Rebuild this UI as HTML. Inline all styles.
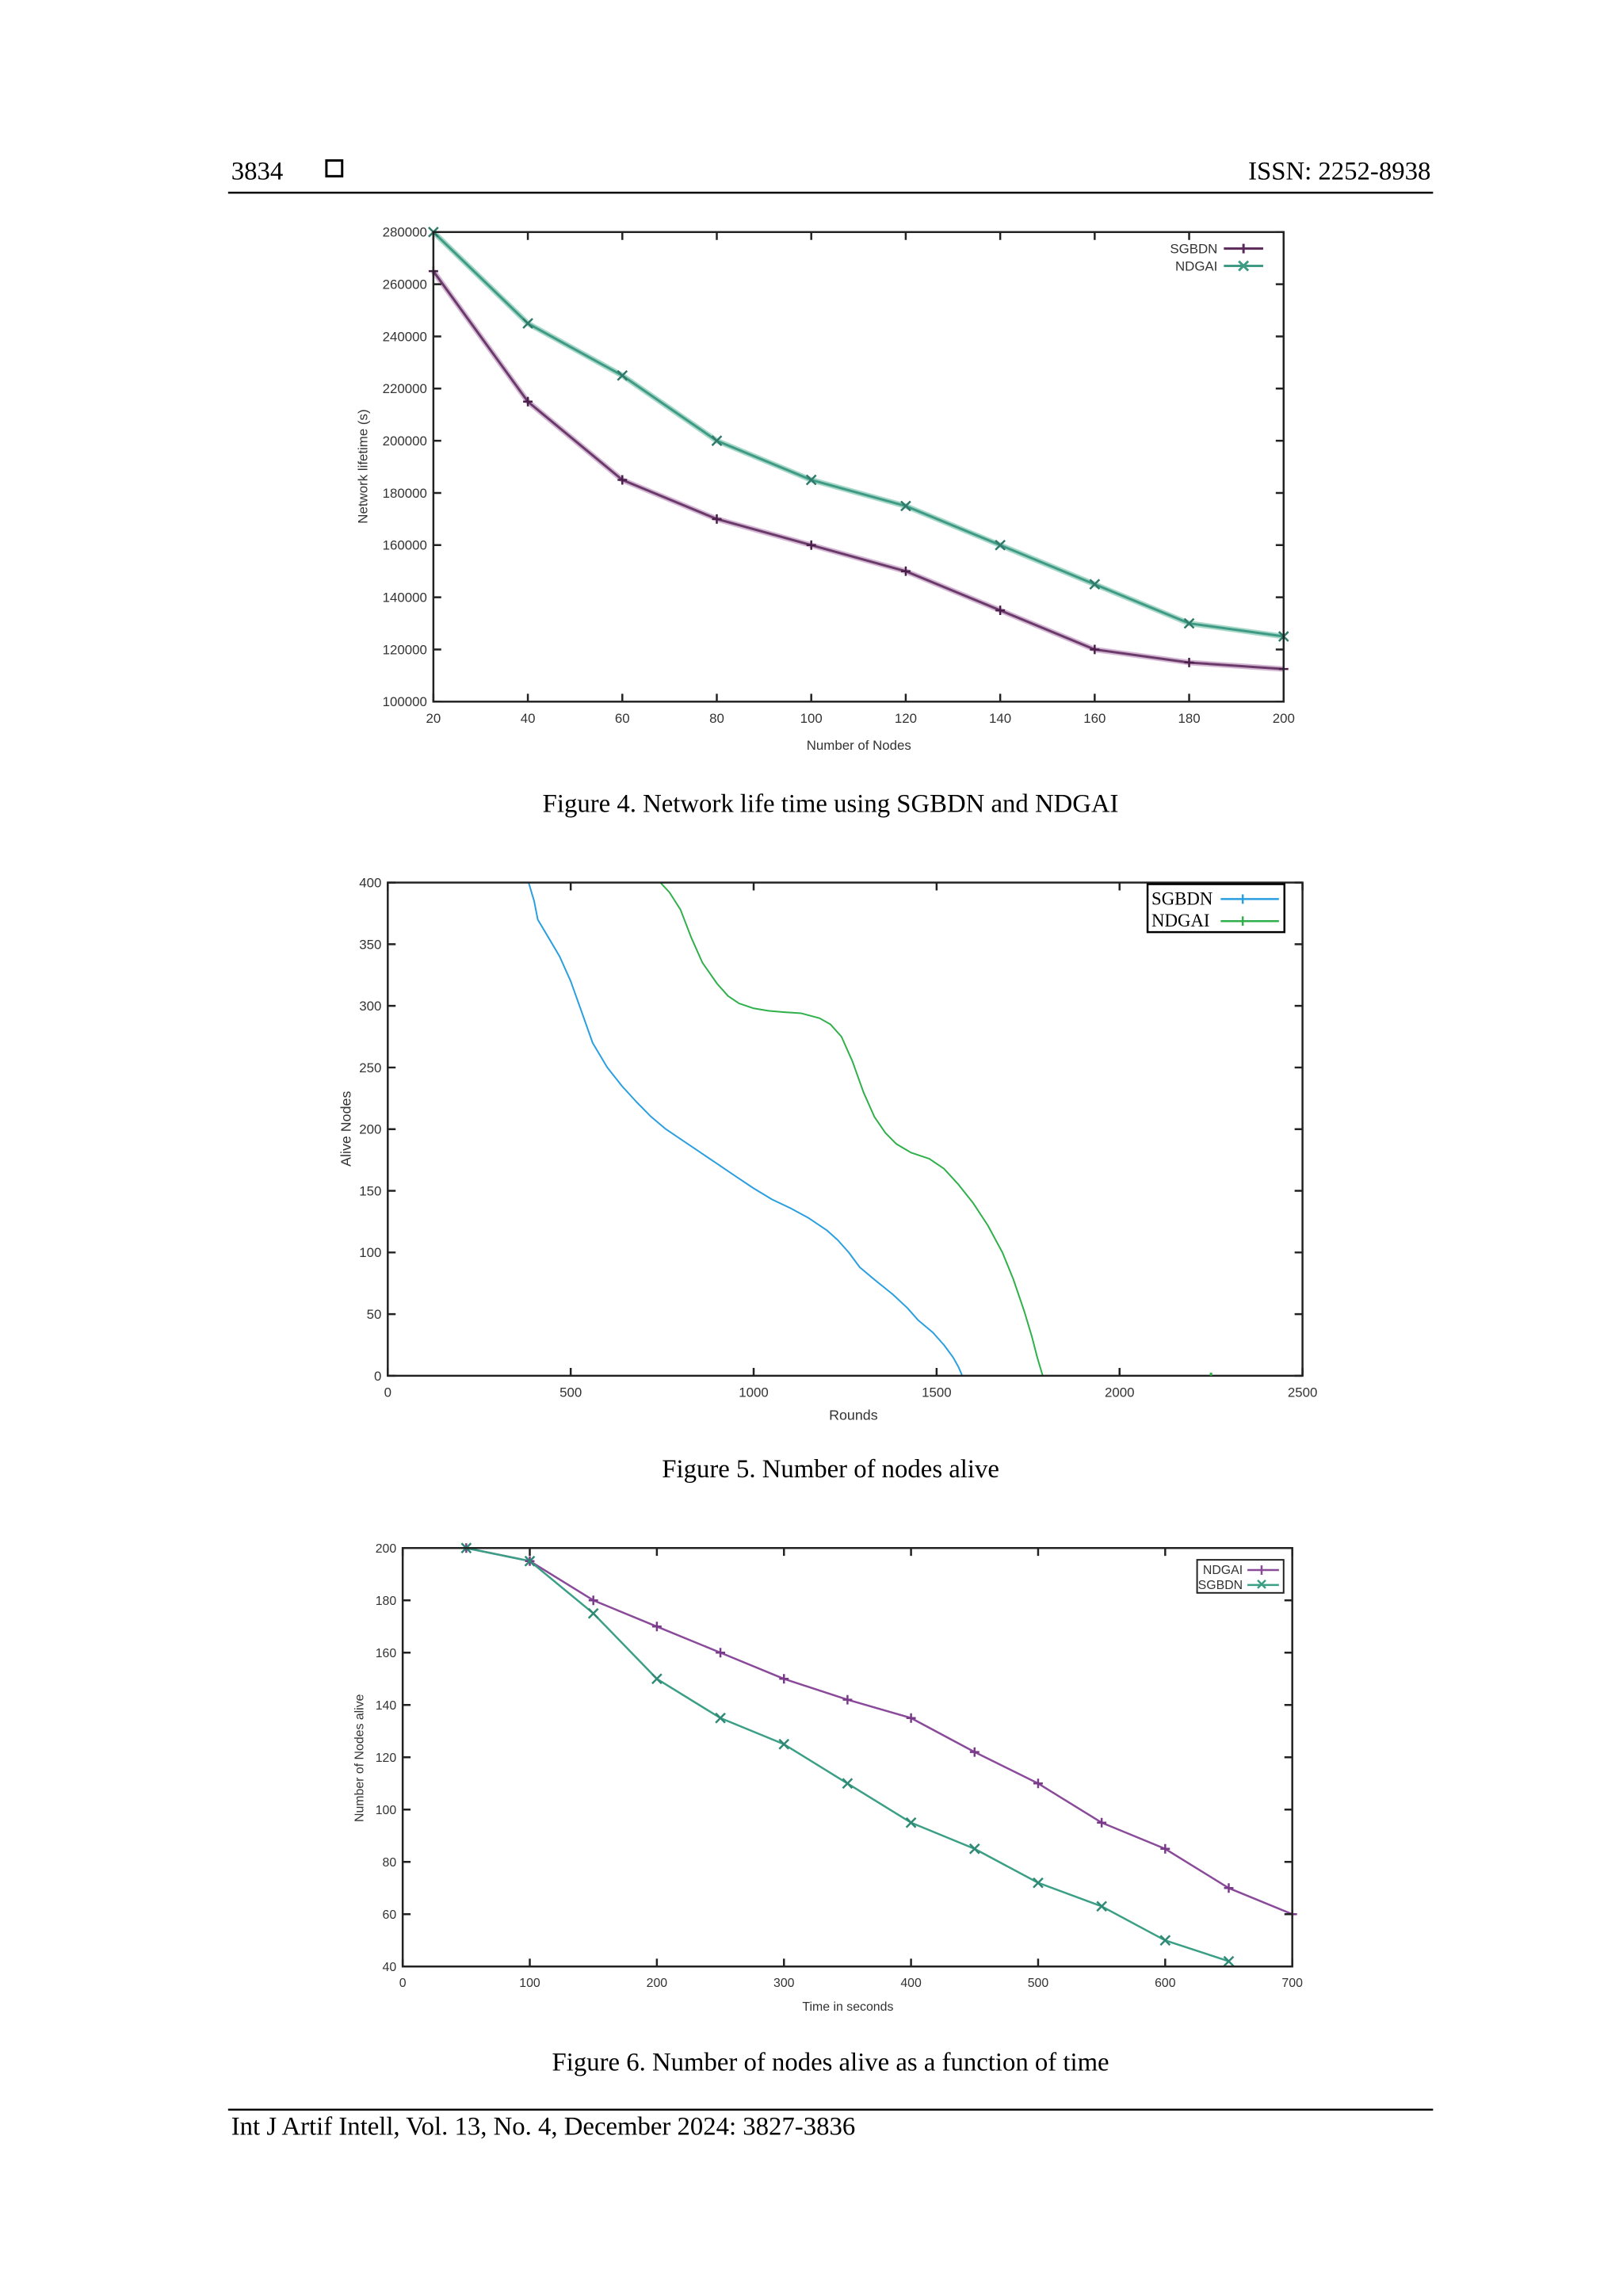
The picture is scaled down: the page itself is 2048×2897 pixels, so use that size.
<!DOCTYPE html>
<html><head><meta charset="utf-8">
<style>
body{margin:0;background:#fff;}
svg{display:block;font-family:"Liberation Sans",sans-serif;}
.serif{font-family:"Liberation Serif",serif;}
</style></head>
<body>
<svg id="page" width="2048" height="2897" viewBox="0 0 2048 2897">
<rect width="2048" height="2897" fill="#fff"/>
<g transform="scale(0.9925)">
<text class="serif" x="294" y="228" font-size="33">3834</text>
<rect x="415" y="204" width="20" height="20" fill="none" stroke="#000" stroke-width="3"/>
<text class="serif" x="1819" y="228" font-size="33" text-anchor="end">ISSN: 2252-8938</text>
<line x1="290" y1="245" x2="1822" y2="245" stroke="#000" stroke-width="2.5"/>
<text class="serif" x="1056" y="1032" font-size="33" text-anchor="middle">Figure 4. Network life time using SGBDN and NDGAI</text>
<text class="serif" x="1056" y="1878" font-size="33" text-anchor="middle">Figure 5. Number of nodes alive</text>
<text class="serif" x="1056" y="2632" font-size="33" text-anchor="middle">Figure 6. Number of nodes alive as a function of time</text>
<line x1="290" y1="2682" x2="1822" y2="2682" stroke="#000" stroke-width="2.5"/>
<text class="serif" x="294" y="2714" font-size="33">Int J Artif Intell, Vol. 13, No. 4, December 2024: 3827-3836</text>
<g id="c1"></g>
<g id="c2"></g>
<g id="c3"></g>
</g>
</svg>
<script>
// Figure 4 data
const f4Nodes=[20,40,60,80,100,120,140,160,180,200];
const f4Sgbdn=[265000,215000,185000,170000,160000,150000,135000,120000,115000,112500];
const f4Ndgai=[280000,245000,225000,200000,185000,175000,160000,145000,130000,125000];
const f4XTicks=[20,40,60,80,100,120,140,160,180,200];
const f4YTicks=[100000,120000,140000,160000,180000,200000,220000,240000,260000,280000];
// Figure 5 data
const f5SgbdnRounds=[385,400,410,440,470,500,530,560,600,640,680,720,760,800,850,900,950,1000,1050,1100,1150,1200,1230,1260,1290,1330,1380,1420,1450,1490,1520,1545,1560,1570];
const f5SgbdnAlive=[400,385,370,355,340,320,295,270,250,235,222,210,200,192,182,172,162,152,143,136,128,118,110,100,88,78,66,55,45,35,25,15,7,0];
const f5NdgaiRounds=[745,770,800,830,860,900,930,960,1000,1040,1080,1130,1180,1210,1240,1270,1300,1330,1360,1390,1430,1480,1520,1560,1600,1640,1680,1710,1740,1760,1775,1785,1790];
const f5NdgaiAlive=[400,392,378,355,335,318,308,302,298,296,295,294,290,285,275,255,230,210,197,188,181,176,168,155,140,122,100,78,52,32,15,5,0];
const f5XTicks=[0,500,1000,1500,2000,2500];
const f5YTicks=[0,50,100,150,200,250,300,350,400];
// Figure 6 data
const f6Time=[50,100,150,200,250,300,350,400,450,500,550,600,650,700];
const f6Ndgai=[200,195,180,170,160,150,142,135,122,110,95,85,70,60];
const f6SgbdnTime=[50,100,150,200,250,300,350,400,450,500,550,600,650];
const f6Sgbdn=[200,195,175,150,135,125,110,95,85,72,63,50,42];
const f6XTicks=[0,100,200,300,400,500,600,700];
const f6YTicks=[40,60,80,100,120,140,160,180,200];

const NS='http://www.w3.org/2000/svg';
function mk(parent,tag,attrs,txt){const e=document.createElementNS(NS,tag);for(const k in attrs)e.setAttribute(k,attrs[k]);if(txt!==undefined)e.textContent=txt;parent.appendChild(e);return e;}
function axes(g,b,xmin,xmax,ymin,ymax){
  const sx=v=>b.l+(v-xmin)/(xmax-xmin)*(b.r-b.l);
  const sy=v=>b.b-(v-ymin)/(ymax-ymin)*(b.b-b.t);
  return [sx,sy];
}
function frame(g,b,sx,sy,xt,yt,fs,xfmt,yfmt){
  const r=mk(g,'rect',{x:b.l,y:b.t,width:b.r-b.l,height:b.b-b.t,fill:'none',stroke:'#222','stroke-width':2.5});
  
  
  xt.forEach(v=>{const x=sx(v);
    const l=mk(g,'path',{d:`M${x},${b.b}v-10M${x},${b.t}v10`,stroke:'#222','stroke-width':2.5});
    
    
    const t=mk(g,'text',{x:x,y:b.b+fs+10,'font-size':fs,'text-anchor':'middle',fill:'#333'},xfmt(v));
    
    
  });
  yt.forEach(v=>{const y=sy(v);
    const l=mk(g,'path',{d:`M${b.l},${y}h10M${b.r},${y}h-10`,stroke:'#222','stroke-width':2.5});
    
    
    const t=mk(g,'text',{x:b.l-8,y:y+fs*0.35,'font-size':fs,'text-anchor':'end',fill:'#333'},yfmt(v));
    
    
  });
}
function series(g,xs,ys,sx,sy,color,w,name){
  const d=xs.map((x,i)=>(i?'L':'M')+sx(x).toFixed(1)+','+sy(ys[i]).toFixed(1)).join('');
  const p=mk(g,'path',{d:d,fill:'none',stroke:color,'stroke-width':w,'stroke-linejoin':'round'});
  
  
}
function markers(g,xs,ys,sx,sy,color,type,name){
  xs.forEach((x,i)=>{const X=sx(x),Y=sy(ys[i]),s=6;
    const d=type==='plus'?`M${X-s},${Y}h${2*s}M${X},${Y-s}v${2*s}`:`M${X-s},${Y-s}l${2*s},${2*s}M${X-s},${Y+s}l${2*s},${-2*s}`;
    const m=mk(g,'path',{d:d,stroke:color,'stroke-width':2.5});
    
    
  });
}
// Figure 4
(function(){
  const g=document.getElementById('c1');
  const b={l:551,r:1632,t:295,b:892};
  const [sx,sy]=axes(g,b,20,200,100000,280000);
  series(g,f4Nodes,f4Ndgai,sx,sy,'#a8d8c8',7,'ndgai-halo');
  series(g,f4Nodes,f4Sgbdn,sx,sy,'#d4b8d4',7,'sgbdn-halo');
  series(g,f4Nodes,f4Ndgai,sx,sy,'#3f9a85',3,'ndgai-line');
  series(g,f4Nodes,f4Sgbdn,sx,sy,'#6a3a6a',3,'sgbdn-line');
  markers(g,f4Nodes,f4Sgbdn,sx,sy,'#4a1f4a','plus','sgbdn-marker');
  markers(g,f4Nodes,f4Ndgai,sx,sy,'#2f7a6a','x','ndgai-marker');
  frame(g,b,sx,sy,f4XTicks,f4YTicks,17,v=>v,v=>v);
  let t=mk(g,'text',{x:1092,y:953,'font-size':17,'text-anchor':'middle',fill:'#333'},'Number of Nodes');
  
  t=mk(g,'text',{x:467,y:593,'font-size':17,'text-anchor':'middle',fill:'#333',transform:'rotate(-90 467 593)'},'Network lifetime (s)');
  
  t=mk(g,'text',{x:1548,y:322,'font-size':17,'text-anchor':'end',fill:'#333'},'SGBDN');
  
  mk(g,'path',{d:'M1556,316h50M1581,310v12',stroke:'#5a2a5a','stroke-width':3});
  t=mk(g,'text',{x:1548,y:344,'font-size':17,'text-anchor':'end',fill:'#333'},'NDGAI');
  
  mk(g,'path',{d:'M1556,338h50M1575,332l12,12M1575,344l12,-12',stroke:'#3f9a85','stroke-width':3});
})();
// Figure 5
(function(){
  const g=document.getElementById('c2');
  const b={l:493,r:1656,t:1122,b:1749};
  const [sx,sy]=axes(g,b,0,2500,0,400);
  series(g,f5SgbdnRounds,f5SgbdnAlive,sx,sy,'#2a9fe0',2,'sgbdn-line');
  series(g,f5NdgaiRounds,f5NdgaiAlive,sx,sy,'#2fb04a',2,'ndgai-line');
  frame(g,b,sx,sy,f5XTicks,f5YTicks,17,v=>v,v=>v);
  mk(g,'path',{d:`M${sx(2250)},${b.b}v-4`,stroke:'#2fb04a','stroke-width':3});
  let t=mk(g,'text',{x:1085,y:1805,'font-size':18,'text-anchor':'middle',fill:'#333'},'Rounds');
  
  t=mk(g,'text',{x:446,y:1435,'font-size':18,'text-anchor':'middle',fill:'#333',transform:'rotate(-90 446 1435)'},'Alive Nodes');
  
  const lb=mk(g,'rect',{x:1459,y:1124,width:174,height:61,fill:'#fff',stroke:'#000','stroke-width':2.5});
  
  t=mk(g,'text',{x:1464,y:1150,'font-size':23,fill:'#000',class:'serif'},'SGBDN');
  
  mk(g,'path',{d:'M1552,1143h74M1580,1137v12',stroke:'#2a9fe0','stroke-width':2.5});
  t=mk(g,'text',{x:1464,y:1178,'font-size':23,fill:'#000',class:'serif'},'NDGAI');
  
  mk(g,'path',{d:'M1552,1171h74M1580,1165v12',stroke:'#2fb04a','stroke-width':2.5});
})();
// Figure 6
(function(){
  const g=document.getElementById('c3');
  const b={l:512,r:1643,t:1968,b:2500};
  const [sx,sy]=axes(g,b,0,700,40,200);
  series(g,f6Time,f6Ndgai,sx,sy,'#8a4a9a',2.5,'ndgai-line');
  series(g,f6SgbdnTime,f6Sgbdn,sx,sy,'#3a9f85',2.5,'sgbdn-line');
  markers(g,f6Time,f6Ndgai,sx,sy,'#7a3a8a','plus','ndgai-marker');
  markers(g,f6SgbdnTime,f6Sgbdn,sx,sy,'#2f8a75','x','sgbdn-marker');
  frame(g,b,sx,sy,f6XTicks,f6YTicks,16,v=>v,v=>v);
  let t=mk(g,'text',{x:1078,y:2556,'font-size':16,'text-anchor':'middle',fill:'#333'},'Time in seconds');
  
  t=mk(g,'text',{x:462,y:2235,'font-size':16,'text-anchor':'middle',fill:'#333',transform:'rotate(-90 462 2235)'},'Number of Nodes alive');
  
  const lb=mk(g,'rect',{x:1522,y:1983,width:110,height:42,fill:'#fff',stroke:'#222','stroke-width':2});
  
  t=mk(g,'text',{x:1580,y:2001,'font-size':16,'text-anchor':'end',fill:'#333'},'NDGAI');
  
  mk(g,'path',{d:'M1586,1996h40M1604,1990v12',stroke:'#8a4a9a','stroke-width':2.5});
  t=mk(g,'text',{x:1580,y:2020,'font-size':16,'text-anchor':'end',fill:'#333'},'SGBDN');
  
  mk(g,'path',{d:'M1586,2015h40M1599,2009l10,10M1599,2019l10,-10',stroke:'#3a9f85','stroke-width':2.5});
})();
</script>
</body></html>
